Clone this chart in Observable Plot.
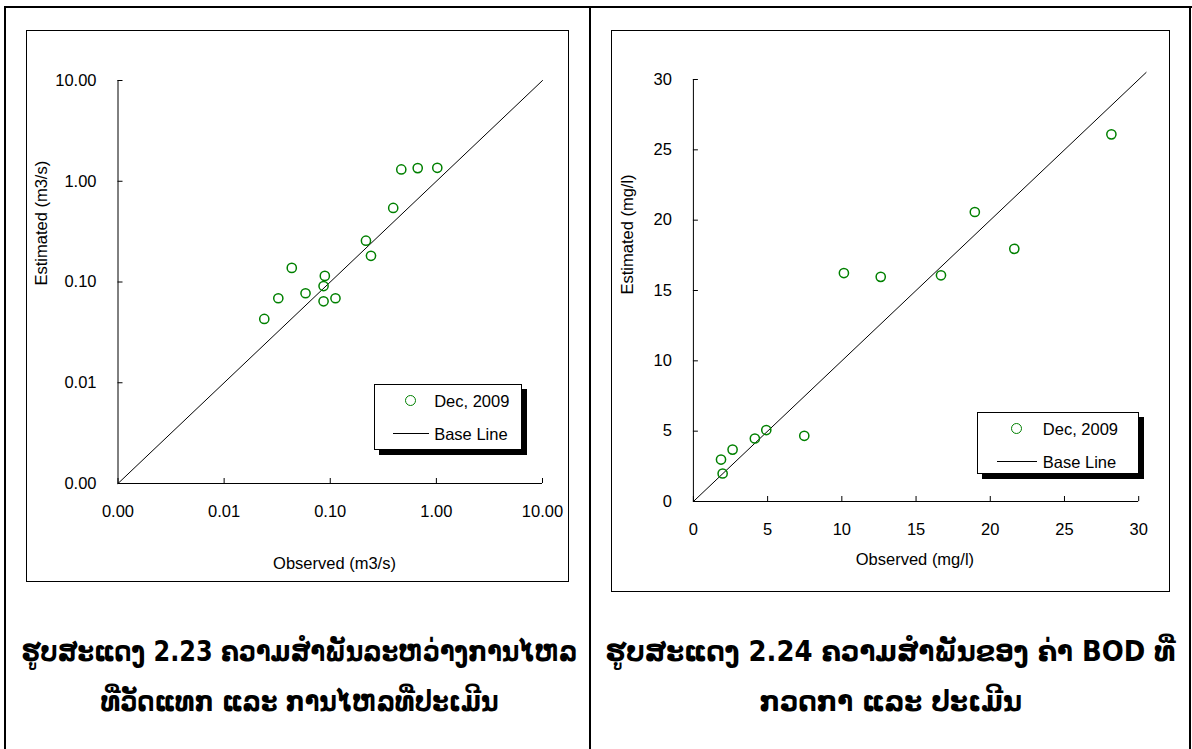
<!DOCTYPE html>
<html><head><meta charset="utf-8">
<script src="https://cdn.jsdelivr.net/npm/d3@7"></script>
<script src="https://cdn.jsdelivr.net/npm/@observablehq/plot@0.6"></script>
<style>
body{margin:0;background:#fff;}
#page{position:relative;width:1192px;height:749px;overflow:hidden;font-family:"Liberation Sans",Arial,sans-serif;color:#000;}
.vline{position:absolute;background:#000;width:2px;}
.hline{position:absolute;background:#000;height:2px;}
.frame{position:absolute;border:1px solid #000;box-sizing:border-box;}
.plotbox{position:absolute;}
.plotbox svg{overflow:visible;}
.legend{position:absolute;border:1px solid #000;background:#fff;box-shadow:5px 5px 0 #000;box-sizing:border-box;font-size:16.5px;}
.legend .item{position:absolute;white-space:nowrap;line-height:1;}
.legend .dot{position:absolute;width:9px;height:9px;border:1.5px solid #008000;border-radius:50%;}
.legend .ln{position:absolute;height:1px;background:#000;}
.caption{position:absolute;font-family:"DejaVu Sans",sans-serif;font-weight:bold;font-size:29px;white-space:nowrap;line-height:1;display:inline-block;transform-origin:50% 50%;}
</style></head><body><div id="page"></div>
<script>
// ---- data ----
const flowObserved  = [0.0239, 0.0324, 0.0434, 0.0585, 0.0865, 0.0889, 0.0865, 0.112, 0.217, 0.242, 0.392, 0.467, 0.667, 1.02];
const flowEstimated = [0.043, 0.069, 0.138, 0.0773, 0.0912, 0.115, 0.0643, 0.069, 0.257, 0.182, 0.543, 1.31, 1.35, 1.36];
const flowBase = [0.001, 10];
const flowTicks = [0.001, 0.01, 0.1, 1, 10];
const bodObserved  = [1.86, 1.97, 2.64, 4.14, 4.91, 7.47, 10.14, 12.62, 16.68, 18.96, 21.62, 28.16];
const bodEstimated = [2.98, 1.99, 3.69, 4.48, 5.08, 4.67, 16.24, 15.97, 16.08, 20.58, 17.96, 26.1];
const bodBase = [0, 30.5];
const bodTicks = [0, 5, 10, 15, 20, 25, 30];
const seriesName = "Dec, 2009";
const baseName = "Base Line";
const flowXTitle = "Observed (m3/s)";
const flowYTitle = "Estimated (m3/s)";
const bodXTitle = "Observed (mg/l)";
const bodYTitle = "Estimated (mg/l)";
const captionLeft = ["ຮູບສະແດງ 2.23 ຄວາມສຳພັນລະຫວ່າງການໄຫລ", "ທີ່ວັດແທກ ແລະ ການໄຫລທີ່ປະເມີນ"];
const captionRight = ["ຮູບສະແດງ  2.24 ຄວາມສຳພັນຂອງ ຄ່າ BOD ທີ່", "ກວດກາ ແລະ ປະເມີນ"];

const page = document.getElementById("page");
function el(cls, css, text, tag) {
  const d = document.createElement(tag || "div");
  d.className = cls;
  Object.assign(d.style, css);
  if (text != null) d.textContent = text;
  page.appendChild(d);
  return d;
}

// table lines
el("hline", {left: "4px", top: "6px", width: "1188px"});
el("vline", {left: "4px", top: "6px", height: "743px"});
el("vline", {left: "589px", top: "6px", height: "743px"});
el("vline", {left: "1189px", top: "6px", height: "743px"});

// chart frames
el("frame", {left: "26px", top: "30px", width: "543px", height: "552px"});
el("frame", {left: "611px", top: "30px", width: "559px", height: "562px"});

const green = "#008000";
const font = "'Liberation Sans', Arial, sans-serif";

function chart({xs, ys, base, ticks, type, fmt, w, h, ml, mr, mt, mb, xTitle, yTitle, xt, yt}) {
  const lo = ticks[0];
  const pairs = base.map(v => ({v}));
  return Plot.plot({
    width: w, height: h,
    marginLeft: ml, marginRight: mr, marginTop: mt, marginBottom: mb,
    x: {type, domain: [ticks[0], ticks[ticks.length - 1]]},
    y: {type, domain: [ticks[0], ticks[ticks.length - 1]]},
    style: {fontFamily: font, fontSize: "16.5px", color: "#000", background: "transparent", overflow: "visible"},
    marks: [
      Plot.axisX({ticks, tickFormat: fmt, tickSize: -5, tickPadding: 27, label: null}),
      Plot.axisY({ticks, tickFormat: fmt, tickSize: -5, tickPadding: 26.5, label: null}),
      Plot.ruleX([lo], {stroke: "#000"}),
      Plot.ruleY([lo], {stroke: "#000"}),
      Plot.line(pairs, {x: "v", y: "v", stroke: "#000", strokeWidth: 1}),
      Plot.dot(xs, {x: d => d, y: (d, i) => ys[i], r: 4.6, stroke: green, strokeWidth: 1.5}),
      Plot.text([yTitle], {frameAnchor: "left", rotate: -90, dx: yt[0], dy: yt[1], fontSize: 16.5, lineAnchor: "middle"}),
      Plot.text([xTitle], {frameAnchor: "bottom", dx: xt[0], dy: xt[1], fontSize: 16.5, lineAnchor: "middle"})
    ]
  });
}

const leftSvg = chart({
  xs: flowObserved, ys: flowEstimated, base: flowBase, ticks: flowTicks, type: "log", fmt: d3.format(".2f"),
  w: 542, h: 551, ml: 91.5, mr: 26, mt: 50, mb: 98,
  xTitle: flowXTitle, yTitle: flowYTitle, xt: [4.25, 80], yt: [-76.5, 3.5]
});
const rightSvg = chart({
  xs: bodObserved, ys: bodEstimated, base: bodBase, ticks: bodTicks, type: "linear", fmt: d3.format("d"),
  w: 558, h: 562, ml: 81.9, mr: 30.8, mt: 49, mb: 91,
  xTitle: bodXTitle, yTitle: bodYTitle, xt: [-1.15, 58.3], yt: [-65.9, 4]
});
const lb = el("plotbox", {left: "26px", top: "30px"}); lb.appendChild(leftSvg);
const rb = el("plotbox", {left: "611px", top: "30px"}); rb.appendChild(rightSvg);

// legends
function legend(x, y, w, h) {
  const L = el("legend", {left: x + "px", top: y + "px", width: w + "px", height: h + "px"});
  const add = (cls, css, text) => { const d = document.createElement("div"); d.className = cls; Object.assign(d.style, css); if (text != null) d.textContent = text; L.appendChild(d); return d; };
  add("dot", {left: (w * 0.235 - 5) + "px", top: "10px"});
  add("item", {left: (w * 0.40) + "px", top: "8px"}, seriesName);
  add("ln", {left: (w * 0.12) + "px", top: "48px", width: (w * 0.245) + "px"});
  add("item", {left: (w * 0.40) + "px", top: "41px"}, baseName);
}
legend(374, 384, 148, 66);
legend(977, 412, 162, 62);

// captions: centred at cx; each column squeezed by the factor that fits its first line
function captionBlock(cx, lines, firstWidth) {
  const spans = lines.map((t, i) => el("caption", {left: "0px", top: (637 + 50 * i) + "px"}, t, "span"));
  const k = firstWidth / spans[0].getBoundingClientRect().width;
  spans.forEach(s => {
    const w = s.getBoundingClientRect().width;
    s.style.left = (cx - w / 2) + "px";
    s.style.transform = `scaleX(${k})`;
  });
}
captionBlock(300, captionLeft, 556);
captionBlock(891, captionRight, 570);
</script>
</body></html>
